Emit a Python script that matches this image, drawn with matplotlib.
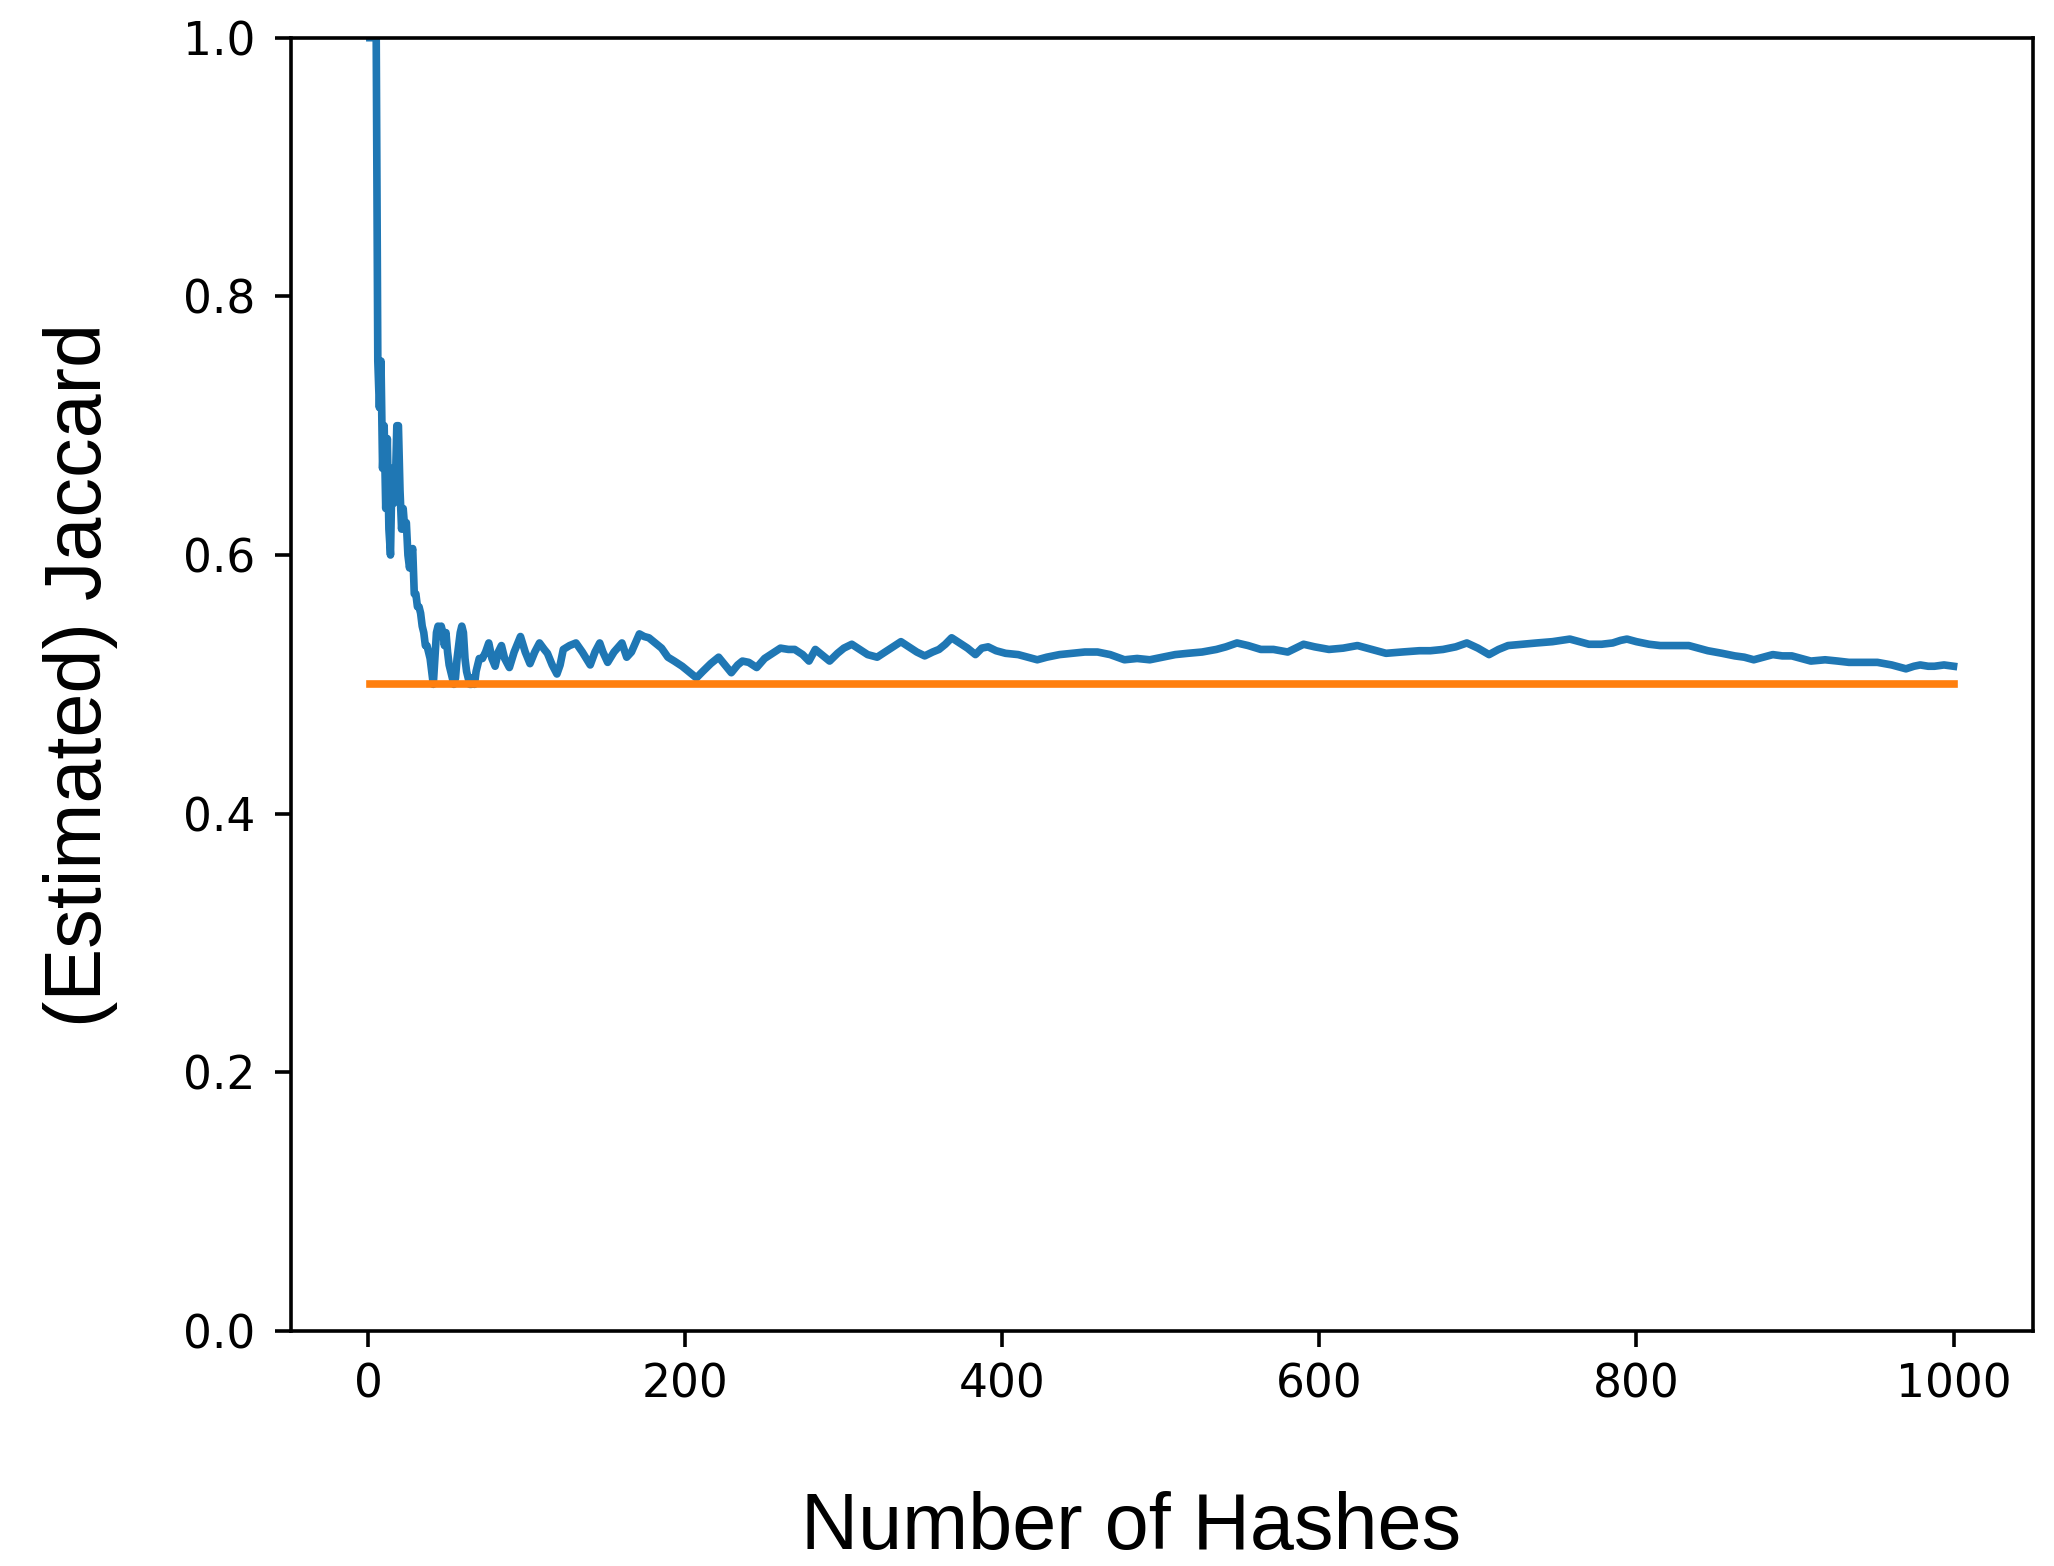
import matplotlib
matplotlib.use("Agg")
import matplotlib.pyplot as plt

# Number of hashes (x) and estimated Jaccard (y)
num_hashes = [1, 2, 3, 4, 5, 6, 7, 8, 9, 10, 11, 12, 13, 14, 15, 16, 17, 18, 19, 20,
              21, 22, 23, 24, 25, 26, 27, 28, 29, 30, 31, 32, 33, 34, 35, 36, 37, 38, 39, 40,
              41, 42, 43, 44, 45, 46, 47, 48, 49, 50, 51, 52, 53, 54, 55, 56, 57, 58, 59, 60,
              61, 62, 63, 64, 65, 66, 67, 68, 69, 70, 72, 74, 76, 78, 80, 82, 84, 86, 89, 92,
              96, 99, 102, 105, 108, 111, 113, 116, 119, 121, 123, 127, 131, 135, 140, 143, 146, 148, 151, 155,
              160, 163, 166, 171, 174, 177, 181, 185, 189, 193, 198, 202, 207, 211, 216, 221, 225, 229, 233, 236,
              240, 245, 250, 255, 260, 265, 269, 274, 278, 282, 286, 291, 296, 300, 305, 310, 315, 321, 326, 331,
              336, 341, 346, 351, 356, 360, 364, 368, 373, 378, 383, 387, 391, 396, 402, 410, 416, 422, 428, 436,
              444, 452, 460, 468, 477, 485, 493, 501, 509, 517, 526, 535, 541, 548, 555, 563, 571, 580, 585, 590,
              597, 606, 615, 624, 633, 642, 652, 663, 670, 678, 686, 693, 700, 707, 713, 719, 728, 737, 747, 758,
              764, 770, 778, 785, 790, 794, 800, 808, 815, 824, 833, 839, 845, 854, 862, 868, 874, 880, 886, 892,
              898, 904, 910, 919, 927, 934, 943, 952, 961, 970, 975, 979, 984, 988, 994, 1000]
estimated_jaccard = [1.0, 1.0, 1.0, 1.0, 1.0, 0.75, 0.714, 0.75, 0.667, 0.70, 0.636, 0.69, 0.62, 0.60, 0.667, 0.64, 0.65, 0.70, 0.70, 0.65,
                     0.62, 0.636, 0.62, 0.625, 0.60, 0.59, 0.60, 0.605, 0.57, 0.57, 0.56, 0.56, 0.555, 0.545, 0.54, 0.53, 0.53, 0.525, 0.52, 0.51,
                     0.50, 0.52, 0.54, 0.545, 0.54, 0.545, 0.54, 0.53, 0.54, 0.525, 0.515, 0.51, 0.505, 0.50, 0.505, 0.52, 0.53, 0.54, 0.545, 0.54,
                     0.52, 0.51, 0.505, 0.50, 0.50, 0.505, 0.50, 0.51, 0.515, 0.52, 0.52, 0.525, 0.532, 0.52, 0.514, 0.525, 0.53, 0.52, 0.513, 0.525,
                     0.537, 0.525, 0.516, 0.525, 0.532, 0.527, 0.524, 0.515, 0.508, 0.515, 0.527, 0.53, 0.532, 0.525, 0.515, 0.525, 0.532, 0.525, 0.517, 0.525,
                     0.532, 0.521, 0.525, 0.539, 0.537, 0.536, 0.532, 0.528, 0.521, 0.518, 0.514, 0.51, 0.505, 0.51, 0.516, 0.521, 0.515, 0.509, 0.515, 0.518,
                     0.517, 0.513, 0.52, 0.524, 0.528, 0.527, 0.527, 0.523, 0.518, 0.527, 0.523, 0.518, 0.524, 0.528, 0.531, 0.527, 0.523, 0.521, 0.525, 0.529,
                     0.533, 0.529, 0.525, 0.522, 0.525, 0.527, 0.531, 0.536, 0.532, 0.528, 0.523, 0.528, 0.529, 0.526, 0.524, 0.523, 0.521, 0.519, 0.521, 0.523,
                     0.524, 0.525, 0.525, 0.523, 0.519, 0.52, 0.519, 0.521, 0.523, 0.524, 0.525, 0.527, 0.529, 0.532, 0.53, 0.527, 0.527, 0.525, 0.528, 0.531,
                     0.529, 0.527, 0.528, 0.53, 0.527, 0.524, 0.525, 0.526, 0.526, 0.527, 0.529, 0.532, 0.528, 0.523, 0.527, 0.53, 0.531, 0.532, 0.533, 0.535,
                     0.533, 0.531, 0.531, 0.532, 0.534, 0.535, 0.533, 0.531, 0.53, 0.53, 0.53, 0.528, 0.526, 0.524, 0.522, 0.521, 0.519, 0.521, 0.523, 0.522,
                     0.522, 0.52, 0.518, 0.519, 0.518, 0.517, 0.517, 0.517, 0.515, 0.512, 0.514, 0.515, 0.514, 0.514, 0.515, 0.514]

true_x = [1, 1000]
true_jaccard = [0.5, 0.5]

x_ticks = [0, 200, 400, 600, 800, 1000]
y_ticks = [0.0, 0.2, 0.4, 0.6, 0.8, 1.0]

fig = plt.figure(figsize=(20.54, 15.66), dpi=100)
ax = fig.add_axes([290.7 / 2054, 1 - 1331 / 1566, (2032.7 - 290.7) / 2054, (1331 - 37.7) / 1566])

ax.plot(num_hashes, estimated_jaccard, color="#1f77b4", linewidth=5.5)
ax.plot(true_x, true_jaccard, color="#ff7f0e", linewidth=5.5)

ax.set_ylim(0, 1.0)
ax.set_xlim(-48.95, 1049.95)
ax.set_xticks(x_ticks)
ax.set_yticks(y_ticks)
ax.set_yticklabels([f"{v:.1f}" for v in y_ticks])

for s in ax.spines.values():
    s.set_linewidth(2.6)
ax.tick_params(axis="both", labelsize=32.8, length=11.5, width=2.6, colors="black")
ax.tick_params(axis="x", pad=11.5)
ax.tick_params(axis="y", pad=14)

fig.text(1131.5 / 2054, 0.011, "Number of Hashes", family="Liberation Sans",
         fontsize=57, ha="center", va="baseline")
fig.text(81 / 2054, 1 - 675 / 1566, "(Estimated) Jaccard", family="Liberation Sans",
         fontsize=57, ha="center", va="center", rotation=90)

fig.savefig("out.png", dpi=100, facecolor="white")
